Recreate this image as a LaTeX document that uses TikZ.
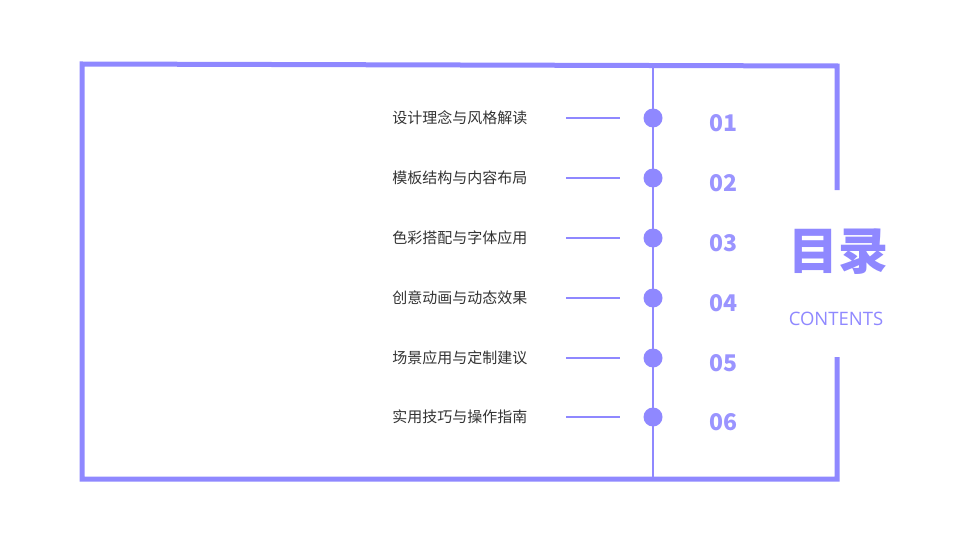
\documentclass[tikz,border=0pt]{standalone}
\usepackage{fontspec}
\newfontfamily\cjk{Noto Sans CJK SC}
\setsansfont{Open Sans}
\definecolor{lilac}{HTML}{8F88FF}
\usetikzlibrary{positioning}

\begin{document}
\begin{tikzpicture}[x=1pt,y=-1pt,
    frame/.style={draw=lilac, line width=5pt},
    item/.style={anchor=east, font=\cjk\fontsize{15}{18}\selectfont, text=black!80},
    num/.style={anchor=center, font=\cjk\bfseries\fontsize{23}{26}\selectfont, text=lilac!90},
    dot/.style={circle, fill=lilac, inner sep=0pt, minimum size=19pt}]

        \useasboundingbox (0,0) rectangle (960,540);
        %Frame
        \draw [frame] (837,190) -- (837,66) -- (82,64) -- (82,479) -- (837,479) -- (837,357);
        \coordinate (top) at (653,66);
        \coordinate (bot) at (653,477);
        \draw [lilac, line width=1.5pt] (top) -- (bot);

        %Items
        \foreach \i/\t/\y in {1/设计理念与风格解读/118, 2/模板结构与内容布局/178, 3/色彩搭配与字体应用/238,
                              4/创意动画与动态效果/298, 5/场景应用与定制建议/358, 6/实用技巧与操作指南/417}
        {
          \node [dot] (d\i) at (653,\y) {};
          \node [item] (t\i) at (531,\y) {\t};
          \coordinate (a\i) at (566,\y);
          \coordinate (b\i) at (620,\y);
          \draw [lilac, line width=1.2pt] (a\i) -- (b\i);
          \node [num] (n\i) at (723,\y+5) {0\i};
        }

        \node [font=\cjk\bfseries\fontsize{50}{56}\selectfont, text=lilac] (title) at (838,252) {目录};
        \node [font=\sffamily\fontsize{18.5}{22}\selectfont, text=lilac] (sub) at (836,319) {CONTENTS};
\end{tikzpicture}
\end{document}
